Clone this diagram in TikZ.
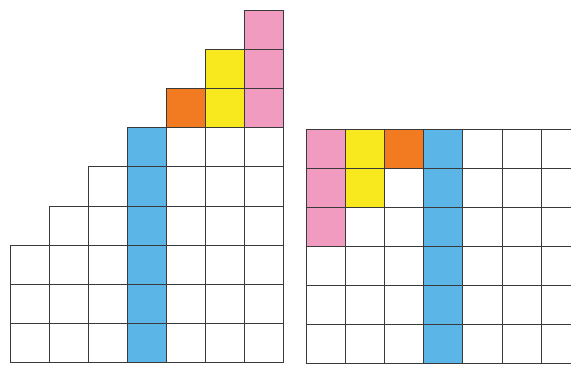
\documentclass[tikz,border=0pt]{standalone}
\definecolor{cpink}{HTML}{F29BC1}
\definecolor{cyellow}{HTML}{F8E81E}
\definecolor{corange}{HTML}{F27A21}
\definecolor{cblue}{HTML}{5BB5E6}
\definecolor{cline}{HTML}{3A3A3A}
\tikzset{cellbox/.style={draw=cline,line width=0.9pt}}
\begin{document}
\begin{tikzpicture}[x=1pt,y=-1pt]
\useasboundingbox (0,0) rectangle (571,365);
% left staircase grid: origin (10,10), cell 39 x 39.2
\newcommand{\lcell}[3]{\path[cellbox,fill=#3] ({10+39*#1},{10+39.2*#2}) rectangle ({10+39*(#1+1)},{10+39.2*(#2+1)});}
\lcell{6}{0}{cpink}
\lcell{5}{1}{cyellow}\lcell{6}{1}{cpink}
\lcell{4}{2}{corange}\lcell{5}{2}{cyellow}\lcell{6}{2}{cpink}
\foreach \r/\c in {3/3,4/2,5/1,6/0,7/0,8/0}{
  \foreach \col in {\c,...,6}{
    \ifnum\col=3 \lcell{\col}{\r}{cblue}\else\lcell{\col}{\r}{white}\fi
  }
}
% right grid: origin (306,129), cell 39.2 x 39
\begin{scope}
\clip (300,100) rectangle (571,365);
\newcommand{\rcell}[3]{\path[cellbox,fill=#3] ({306+39.2*#1},{129+39*#2}) rectangle ({306+39.2*(#1+1)},{129+39*(#2+1)});}
\foreach \r in {0,...,5}{
  \foreach \col in {0,...,7}{
    \rcell{\col}{\r}{white}
  }
}
\rcell{0}{0}{cpink}\rcell{0}{1}{cpink}\rcell{0}{2}{cpink}
\rcell{1}{0}{cyellow}\rcell{1}{1}{cyellow}
\rcell{2}{0}{corange}
\foreach \r in {0,...,5}{\rcell{3}{\r}{cblue}}
\end{scope}
\end{tikzpicture}
\end{document}
